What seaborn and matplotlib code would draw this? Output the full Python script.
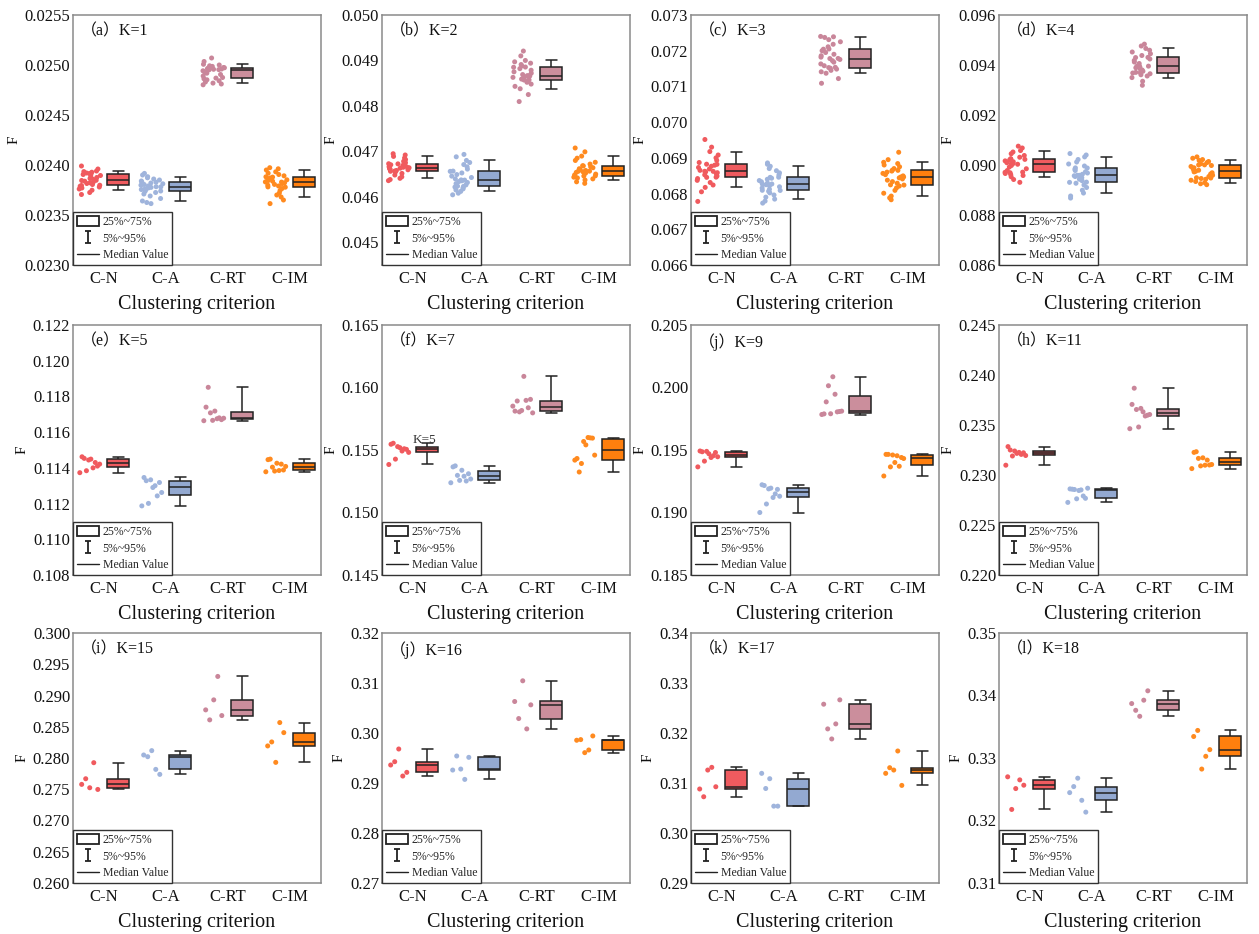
import numpy as np
import pandas as pd
import matplotlib
matplotlib.use("Agg")
import matplotlib.pyplot as plt
from matplotlib.patches import Patch
from matplotlib.lines import Line2D
from matplotlib.path import Path
import seaborn as sns

sns.set_theme(style="white")
plt.rcParams["font.family"] = ["Liberation Serif", "Noto Sans CJK SC", "DejaVu Sans"]

criteria = ["C-N", "C-A", "C-RT", "C-IM"]
panel_titles = ["（a）K=1", "（b）K=2", "（c）K=3", "（d）K=4",
                "（e）K=5", "（f）K=7", "（j）K=9", "（h）K=11",
                "（i）K=15", "（j）K=16", "（k）K=17", "（l）K=18"]

# y-axis range and tick step of each panel
y_limits = [(0.0230, 0.0255), (0.0445, 0.0500), (0.066, 0.073), (0.086, 0.096),
            (0.108, 0.122), (0.145, 0.165), (0.185, 0.205), (0.220, 0.245),
            (0.260, 0.300), (0.27, 0.32), (0.29, 0.34), (0.31, 0.35)]
y_first_tick = [0.0230, 0.045, 0.066, 0.086, 0.108, 0.145, 0.185, 0.220, 0.260, 0.27, 0.29, 0.31]
y_steps = [0.0005, 0.001, 0.001, 0.002, 0.002, 0.005, 0.005, 0.005, 0.005, 0.01, 0.01, 0.01]
y_formats = ["%.4f", "%.3f", "%.3f", "%.3f", "%.3f", "%.3f", "%.3f", "%.3f", "%.3f", "%.2f", "%.2f", "%.2f"]

# ---- F values of every run, per clustering criterion ----
k1_cn = [0.023705, 0.023725, 0.023748, 0.023760, 0.023770, 0.023780, 0.023788, 0.023795, 0.023798, 0.023805,
         0.023815, 0.023822, 0.023830, 0.023838, 0.023845, 0.023847, 0.023855, 0.023865, 0.023875, 0.023885,
         0.023895, 0.023905, 0.023908, 0.023915, 0.023920, 0.023928, 0.023934, 0.023940, 0.023960, 0.023990]
k1_ca = [0.023614, 0.023625, 0.023640, 0.023665, 0.023690, 0.023710, 0.023725, 0.023737, 0.023740, 0.023748,
         0.023755, 0.023762, 0.023770, 0.023776, 0.023781, 0.023783, 0.023790, 0.023798, 0.023805, 0.023812,
         0.023820, 0.023828, 0.023831, 0.023840, 0.023850, 0.023860, 0.023872, 0.023883, 0.023900, 0.023916]
k1_crt = [0.024802, 0.024810, 0.024819, 0.024830, 0.024842, 0.024852, 0.024862, 0.024869, 0.024875, 0.024890,
          0.024905, 0.024918, 0.024930, 0.024942, 0.024952, 0.024954, 0.024957, 0.024960, 0.024963, 0.024966,
          0.024969, 0.024972, 0.024975, 0.024980, 0.024986, 0.024992, 0.025000, 0.025007, 0.025035, 0.025070]
k1_cim = [0.023614, 0.023650, 0.023680, 0.023700, 0.023720, 0.023745, 0.023765, 0.023778, 0.023781, 0.023790,
          0.023798, 0.023806, 0.023814, 0.023822, 0.023829, 0.023831, 0.023838, 0.023845, 0.023852, 0.023860,
          0.023870, 0.023879, 0.023882, 0.023892, 0.023905, 0.023918, 0.023932, 0.023950, 0.023962, 0.023973]

k2_cn = [0.046356, 0.046380, 0.046407, 0.046440, 0.046480, 0.046515, 0.046545, 0.046562, 0.046566, 0.046580,
         0.046595, 0.046608, 0.046620, 0.046630, 0.046639, 0.046641, 0.046650, 0.046662, 0.046675, 0.046690,
         0.046705, 0.046725, 0.046728, 0.046750, 0.046780, 0.046820, 0.046855, 0.046889, 0.046920, 0.046948]
k2_ca = [0.046044, 0.046080, 0.046119, 0.046150, 0.046175, 0.046198, 0.046215, 0.046229, 0.046235, 0.046262,
         0.046290, 0.046315, 0.046335, 0.046352, 0.046368, 0.046372, 0.046395, 0.046425, 0.046455, 0.046490,
         0.046525, 0.046560, 0.046566, 0.046610, 0.046660, 0.046710, 0.046755, 0.046800, 0.046880, 0.046933]
k2_crt = [0.048096, 0.048250, 0.048378, 0.048430, 0.048480, 0.048520, 0.048550, 0.048569, 0.048574, 0.048590,
          0.048610, 0.048628, 0.048645, 0.048658, 0.048666, 0.048668, 0.048690, 0.048720, 0.048750, 0.048785,
          0.048820, 0.048850, 0.048855, 0.048880, 0.048910, 0.048940, 0.048970, 0.049000, 0.049100, 0.049207]
k2_cim = [0.046296, 0.046330, 0.046370, 0.046395, 0.046415, 0.046432, 0.046448, 0.046458, 0.046462, 0.046480,
          0.046500, 0.046520, 0.046538, 0.046552, 0.046562, 0.046564, 0.046580, 0.046598, 0.046618, 0.046640,
          0.046660, 0.046680, 0.046684, 0.046720, 0.046760, 0.046800, 0.046850, 0.046896, 0.046990, 0.047074]

k3_cn = [0.067780, 0.068050, 0.068173, 0.068240, 0.068310, 0.068370, 0.068420, 0.068454, 0.068460, 0.068490,
         0.068525, 0.068555, 0.068585, 0.068608, 0.068622, 0.068624, 0.068650, 0.068690, 0.068730, 0.068765,
         0.068795, 0.068819, 0.068823, 0.068870, 0.068930, 0.069000, 0.069080, 0.069176, 0.069300, 0.069514]
k3_ca = [0.067733, 0.067790, 0.067845, 0.067900, 0.067960, 0.068020, 0.068065, 0.068088, 0.068092, 0.068120,
         0.068155, 0.068190, 0.068220, 0.068248, 0.068266, 0.068268, 0.068295, 0.068330, 0.068365, 0.068400,
         0.068430, 0.068454, 0.068458, 0.068520, 0.068580, 0.068640, 0.068700, 0.068764, 0.068820, 0.068858]
k3_crt = [0.071088, 0.071220, 0.071369, 0.071410, 0.071450, 0.071485, 0.071510, 0.071528, 0.071535, 0.071580,
          0.071630, 0.071680, 0.071720, 0.071755, 0.071780, 0.071784, 0.071820, 0.071860, 0.071900, 0.071950,
          0.072000, 0.072043, 0.072048, 0.072110, 0.072180, 0.072250, 0.072310, 0.072372, 0.072390, 0.072400]
k3_cim = [0.067827, 0.067880, 0.067930, 0.068010, 0.068090, 0.068160, 0.068210, 0.068238, 0.068245, 0.068290,
          0.068335, 0.068375, 0.068410, 0.068440, 0.068463, 0.068465, 0.068495, 0.068530, 0.068565, 0.068600,
          0.068630, 0.068650, 0.068655, 0.068700, 0.068750, 0.068800, 0.068840, 0.068876, 0.068950, 0.069157]

k4_cn = [0.089307, 0.089420, 0.089530, 0.089580, 0.089620, 0.089660, 0.089690, 0.089707, 0.089715, 0.089780,
         0.089850, 0.089920, 0.089980, 0.090030, 0.090055, 0.090057, 0.090090, 0.090130, 0.090165, 0.090200,
         0.090225, 0.090243, 0.090248, 0.090310, 0.090380, 0.090450, 0.090520, 0.090578, 0.090680, 0.090753]
k4_ca = [0.088677, 0.088760, 0.088878, 0.088990, 0.089100, 0.089200, 0.089270, 0.089306, 0.089315, 0.089370,
         0.089430, 0.089490, 0.089540, 0.089570, 0.089587, 0.089589, 0.089630, 0.089680, 0.089730, 0.089780,
         0.089830, 0.089880, 0.089885, 0.089960, 0.090040, 0.090120, 0.090220, 0.090324, 0.090400, 0.090458]
k4_crt = [0.093189, 0.093350, 0.093497, 0.093560, 0.093610, 0.093650, 0.093680, 0.093697, 0.093705, 0.093750,
          0.093800, 0.093850, 0.093890, 0.093925, 0.093950, 0.093954, 0.094000, 0.094060, 0.094120, 0.094180,
          0.094240, 0.094298, 0.094305, 0.094380, 0.094450, 0.094520, 0.094590, 0.094661, 0.094760, 0.094835]
k4_cim = [0.089213, 0.089250, 0.089293, 0.089340, 0.089390, 0.089430, 0.089460, 0.089480, 0.089490, 0.089540,
          0.089590, 0.089640, 0.089690, 0.089725, 0.089748, 0.089750, 0.089790, 0.089840, 0.089890, 0.089940,
          0.089980, 0.090002, 0.090006, 0.090050, 0.090100, 0.090140, 0.090180, 0.090217, 0.090270, 0.090324]

k5_cn = [0.11373, 0.11462, 0.11453, 0.11384, 0.11444, 0.11449, 0.11400, 0.11430, 0.11410, 0.11421]
k5_ca = [0.11187, 0.11346, 0.11328, 0.11201, 0.11333, 0.11290, 0.11300, 0.11243, 0.11318, 0.11262]
k5_crt = [0.11664, 0.11740, 0.11851, 0.11708, 0.11666, 0.11718, 0.11675, 0.11680, 0.11670, 0.11678]
k5_cim = [0.11378, 0.11446, 0.11449, 0.11404, 0.11382, 0.11426, 0.11385, 0.11421, 0.11388, 0.11408]

k7_cn = [0.15384, 0.15546, 0.15554, 0.15427, 0.15527, 0.15519, 0.15492, 0.15510, 0.15505, 0.15481]
k7_ca = [0.15238, 0.15365, 0.15373, 0.15297, 0.15257, 0.15338, 0.15290, 0.15252, 0.15310, 0.15268]
k7_crt = [0.15851, 0.15811, 0.15892, 0.15805, 0.15816, 0.16089, 0.15897, 0.15838, 0.15905, 0.15797]
k7_cim = [0.15419, 0.15432, 0.15324, 0.15392, 0.15568, 0.15541, 0.15600, 0.15597, 0.15595, 0.15459]

k9_cn = [0.19365, 0.19492, 0.19486, 0.19411, 0.19489, 0.19470, 0.19440, 0.19454, 0.19480, 0.19446]
k9_ca = [0.19000, 0.19222, 0.19216, 0.19068, 0.19189, 0.19195, 0.19120, 0.19149, 0.19185, 0.19130]
k9_crt = [0.19784, 0.19789, 0.19885, 0.20014, 0.19790, 0.20086, 0.19946, 0.19805, 0.19808, 0.19811]
k9_cim = [0.19292, 0.19465, 0.19465, 0.19365, 0.19460, 0.19400, 0.19454, 0.19370, 0.19440, 0.19432]

k11_cn = [0.23098, 0.23284, 0.23250, 0.23190, 0.23240, 0.23216, 0.23226, 0.23206, 0.23222, 0.23195]
k11_ca = [0.22726, 0.22861, 0.22858, 0.22855, 0.22762, 0.22845, 0.22851, 0.22790, 0.22767, 0.22868]
k11_crt = [0.23463, 0.23706, 0.23868, 0.23655, 0.23480, 0.23666, 0.23632, 0.23590, 0.23598, 0.23605]
k11_cim = [0.23064, 0.23226, 0.23233, 0.23166, 0.23091, 0.23172, 0.23098, 0.23149, 0.23100, 0.23105]

k15_cn = [0.27578, 0.27668, 0.27524, 0.27925, 0.27497]
k15_ca = [0.28048, 0.28021, 0.28118, 0.27818, 0.27738]
k15_crt = [0.28770, 0.28610, 0.28930, 0.29305, 0.28679]
k15_cim = [0.28193, 0.28257, 0.27930, 0.28567, 0.28406]

k16_cn = [0.29360, 0.29426, 0.29680, 0.29139, 0.29213]
k16_ca = [0.29259, 0.29540, 0.29279, 0.29072, 0.29513]
k16_crt = [0.30630, 0.30289, 0.31044, 0.30082, 0.30563]
k16_cim = [0.29855, 0.29868, 0.29607, 0.29660, 0.29941]

k17_cn = [0.30880, 0.30725, 0.31259, 0.31313, 0.30925]
k17_ca = [0.31193, 0.30890, 0.31086, 0.30537, 0.30537]
k17_crt = [0.32576, 0.32082, 0.31881, 0.32182, 0.32663]
k17_cim = [0.31193, 0.31306, 0.31259, 0.31640, 0.30952]

k18_cn = [0.32699, 0.32177, 0.32511, 0.32650, 0.32565]
k18_ca = [0.32446, 0.32543, 0.32677, 0.32323, 0.32134]
k18_crt = [0.33871, 0.33763, 0.33667, 0.33925, 0.34075]
k18_cim = [0.33344, 0.33441, 0.32823, 0.33027, 0.33134]

panel_series = [
    [k1_cn, k1_ca, k1_crt, k1_cim], [k2_cn, k2_ca, k2_crt, k2_cim],
    [k3_cn, k3_ca, k3_crt, k3_cim], [k4_cn, k4_ca, k4_crt, k4_cim],
    [k5_cn, k5_ca, k5_crt, k5_cim], [k7_cn, k7_ca, k7_crt, k7_cim],
    [k9_cn, k9_ca, k9_crt, k9_cim], [k11_cn, k11_ca, k11_crt, k11_cim],
    [k15_cn, k15_ca, k15_crt, k15_cim], [k16_cn, k16_ca, k16_crt, k16_cim],
    [k17_cn, k17_ca, k17_crt, k17_cim], [k18_cn, k18_ca, k18_crt, k18_cim],
]

point_colors = {"C-N": "#F05A5E", "C-A": "#9FB4DC", "C-RT": "#C9869A", "C-IM": "#FF8A1F"}
box_colors = {"C-N": "#EF5B5F", "C-A": "#93A9D1", "C-RT": "#CB8E9C", "C-IM": "#FF7F0E"}

rng = np.random.default_rng(11)

W, H = 1259, 934
fig = plt.figure(figsize=(W / 100, H / 100), dpi=100)
lefts = [73, 382, 691, 999]
tops = [15, 325, 633]
aw, ah = 248, 250

ibeam = Path([(-0.45, 1), (0.45, 1), (0, 1), (0, -1), (-0.45, -1), (0.45, -1)],
             [Path.MOVETO, Path.LINETO, Path.MOVETO, Path.LINETO, Path.MOVETO, Path.LINETO])
legend_handles = [
    Patch(facecolor="white", edgecolor="#222222", linewidth=1.3),
    Line2D([], [], linestyle="none", marker=ibeam, markersize=9, markeredgewidth=1.3,
           color="#222222", markerfacecolor="none"),
    Line2D([], [], color="#222222", linewidth=1.0),
]
legend_labels = ["25%~75%", "5%~95%", "Median Value"]

for p, series in enumerate(panel_series):
    r, c = divmod(p, 4)
    ax = fig.add_axes([lefts[c] / W, 1 - (tops[r] + ah) / H, aw / W, ah / H])

    rows = []
    for i, (crit, vals) in enumerate(zip(criteria, series)):
        n = len(vals)
        if n >= 20:
            offs = rng.uniform(-0.18, 0.18, n)
        else:
            half = 0.13 if n <= 5 else 0.16
            offs = np.linspace(-half, half, n)
        for v, o in zip(vals, offs):
            rows.append({"crit": crit, "F": v, "xp": i - 0.23 + o, "xb": i + 0.23})
    df = pd.DataFrame(rows)
    dense = len(series[0]) >= 20

    sns.scatterplot(data=df, x="xp", y="F", hue="crit", palette=point_colors, s=13,
                    edgecolor="none", legend=False, ax=ax, zorder=3)
    sns.boxplot(data=df, x="xb", y="F", hue="crit", palette=box_colors, native_scale=True,
                dodge=False, width=0.35, whis=(5, 95) if dense else (0, 100), showfliers=False,
                linewidth=1.1, linecolor="#222222", saturation=1, legend=False, ax=ax)

    ax.set_xlim(-0.5, 3.5)
    ax.set_xticks(range(4))
    ax.set_xticklabels(criteria)
    lo, hi = y_limits[p]
    step = y_steps[p]
    ticks = np.round(np.arange(y_first_tick[p], hi + step / 2, step), 6)
    ax.set_ylim(lo, hi)
    ax.set_yticks(ticks)
    ax.set_yticklabels([y_formats[p] % t for t in ticks])
    ax.tick_params(axis="both", length=0, labelsize=12, colors="#111111")
    ax.tick_params(axis="y", pad=2)
    ax.tick_params(axis="x", pad=4)
    ax.set_xlabel("Clustering criterion", fontsize=14.5, labelpad=6, color="#111111")
    ax.set_ylabel("F", fontsize=11, labelpad=3, color="#111111")
    for sp in ax.spines.values():
        sp.set_color("#8a8a8a")
        sp.set_linewidth(1.1)

    ax.text(0.03, 0.965, panel_titles[p], transform=ax.transAxes, ha="left", va="top",
            fontsize=11.5, color="#111111")
    if p == 5:
        ax.text(0.0, 0.15535, "K=5", fontsize=9.5, ha="left", va="bottom", color="#333333", zorder=5)

    leg = ax.legend(legend_handles, legend_labels, loc="lower left", bbox_to_anchor=(0, 0),
                    borderaxespad=0, frameon=True, fancybox=False, edgecolor="#333333",
                    framealpha=1, fontsize=8.5, handlelength=1.9, handleheight=1.0,
                    handletextpad=0.3, labelspacing=0.38, borderpad=0.3)
    leg.get_frame().set_linewidth(1.0)

fig.savefig("out.png", dpi=100, facecolor="white")
